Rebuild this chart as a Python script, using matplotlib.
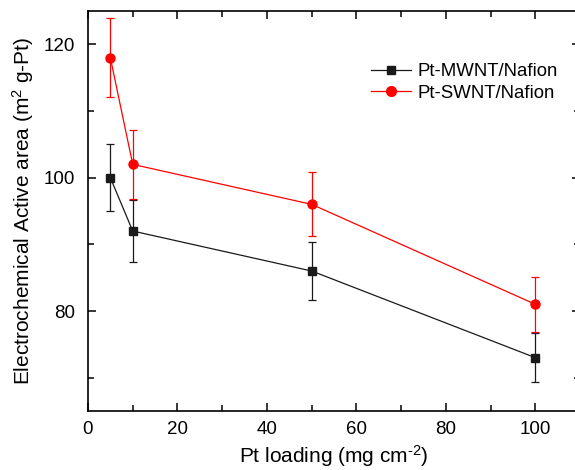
import numpy as np
import matplotlib as mpl
from matplotlib import pyplot as plt
from matplotlib.ticker import MultipleLocator
from matplotlib.lines import Line2D

plt.rcParams["font.family"] = ["Liberation Sans", "DejaVu Sans"]
plt.rcParams["mathtext.fontset"] = "custom"
plt.rcParams["mathtext.rm"] = "Liberation Sans"
plt.rcParams["mathtext.default"] = "rm"

# Pt loading (mg cm-2)
loading = [5, 10, 50, 100]

# electrochemical active area and error bars
mwnt = [100, 92, 86, 73]
mwnt_err = [5.0, 4.6, 4.3, 3.7]
swnt = [118, 102, 96, 81]
swnt_err = [5.9, 5.2, 4.8, 4.1]

fig = plt.figure(figsize=(5.75, 4.7), dpi=100)
ax = fig.add_axes([0.153, 0.1255, 0.856, 0.851])

black = "#1a1a1a"
red = "#ff0000"
ax.errorbar(loading, mwnt, yerr=mwnt_err, color=black, marker="s",
            markersize=6, linewidth=0.9, elinewidth=0.9, capsize=3,
            capthick=0.9)
ax.errorbar(loading, swnt, yerr=swnt_err, color=red, marker="o",
            markersize=6.5, linewidth=0.9, elinewidth=0.9, capsize=3,
            capthick=0.9)

ax.set_xlim(0, 110)
ax.set_ylim(65, 125)
ax.xaxis.set_major_locator(MultipleLocator(20))
ax.xaxis.set_minor_locator(MultipleLocator(10))
ax.yaxis.set_major_locator(MultipleLocator(20))
ax.yaxis.set_minor_locator(MultipleLocator(10))
ax.tick_params(which="both", direction="in", top=True, right=True,
               labelsize=13.5, width=1.1)
ax.tick_params(axis="y", pad=9)
ax.tick_params(axis="x", pad=7)
ax.tick_params(which="major", length=6)
ax.tick_params(which="minor", length=4)
for s in ax.spines.values():
    s.set_linewidth(1.2)

ax.set_xlabel(r"Pt loading (mg cm$^{\text{-2}}$)", fontsize=15, labelpad=4)
ax.set_ylabel("Electrochemical Active area (m$^2$ g-Pt)", fontsize=15,
              labelpad=6)

handles = [
    Line2D([], [], color=black, marker="s", markersize=6, linewidth=0.9),
    Line2D([], [], color=red, marker="o", markersize=7, linewidth=0.9),
]
ax.legend(handles, ["Pt-MWNT/Nafion", "Pt-SWNT/Nafion"],
          loc="upper left", bbox_to_anchor=(0.549, 0.9025), frameon=False,
          fontsize=13.4, handlelength=2.15, borderpad=0.2,
          labelspacing=0.25, handletextpad=0.32)

fig.savefig("out.png", dpi=100)
